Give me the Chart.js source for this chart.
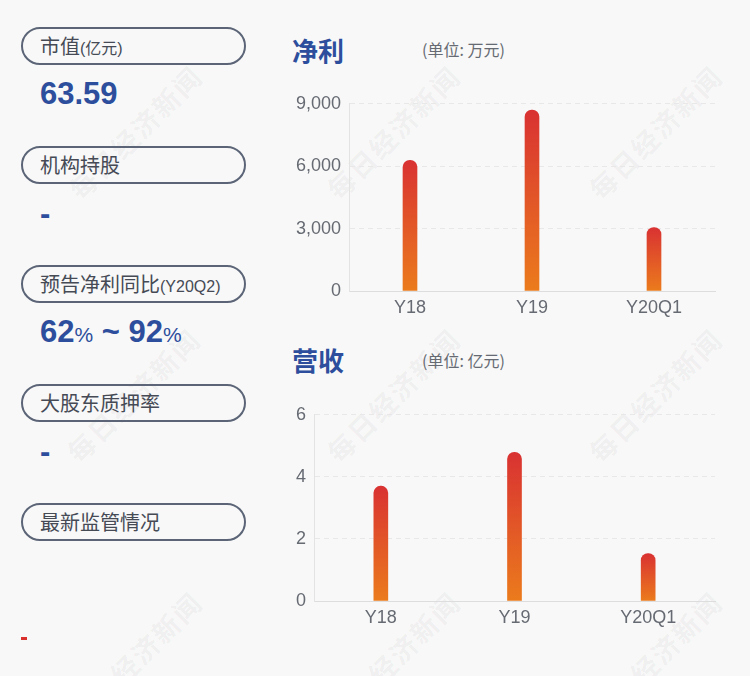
<!DOCTYPE html>
<html>
<head>
<meta charset="utf-8">
<script src="https://cdn.jsdelivr.net/npm/chart.js@4"></script>
<style>
  html, body { margin: 0; padding: 0; }
  body { width: 750px; height: 676px; background: #f8f8f8; position: relative; overflow: hidden;
         font-family: "Liberation Sans", "Noto Sans CJK SC", sans-serif; }
  .wm { position: absolute; font: bold 27px "Noto Sans CJK SC", sans-serif; color: rgba(0,0,0,0.05);
        transform: translate(-50%, -50%) rotate(-45deg); white-space: nowrap; letter-spacing: 2px; }
  .pill { position: absolute; left: 21px; width: 204px; height: 34px; border: 2px solid #5b6577;
          border-radius: 19px; color: #454a55; font: 20px "Noto Sans CJK SC", sans-serif;
          line-height: 34px; padding-left: 17px; }
  .pill small { font-size: 16px; font-family: "Liberation Sans", "Noto Sans CJK SC", sans-serif; }
  .val { position: absolute; left: 40px; color: #2d4e9c; font: bold 31px "Liberation Sans", sans-serif; }
  .val small { font-size: 21px; font-weight: normal; }
  .title { position: absolute; left: 292px; color: #2d4e9c; font: bold 26px "Noto Sans CJK SC", sans-serif; }
  .unit { position: absolute; left: 422px; color: #666a72; font: 16px "Noto Sans CJK SC", sans-serif; }
  canvas { position: absolute; }
</style>
</head>
<body>
<div id="wms"></div>

<div class="pill" style="top:27px">市值<small>(亿元)</small></div>
<div class="val" style="top:76px">63.59</div>
<div class="pill" style="top:146px">机构持股</div>
<div class="val" style="top:196px">-</div>
<div class="pill" style="top:265px">预告净利同比<small>(Y20Q2)</small></div>
<div class="val" style="top:314px">62<small>%</small> ~ 92<small>%</small></div>
<div class="pill" style="top:384px">大股东质押率</div>
<div class="val" style="top:434px">-</div>
<div class="pill" style="top:503px">最新监管情况</div>
<div style="position:absolute;left:21px;top:637px;width:6px;height:3px;background:#d9302e"></div>

<div class="title" style="top:31px">净利</div>
<div class="unit" style="top:37px">(单位: 万元)</div>
<div class="title" style="top:341px">营收</div>
<div class="unit" style="top:348px">(单位: 亿元)</div>

<canvas id="profit" style="left:280px;top:85px" width="450" height="240"></canvas>
<canvas id="revenue" style="left:280px;top:396px" width="450" height="239"></canvas>

<script>
const categories = ['Y18', 'Y19', 'Y20Q1'];
const profitValues = [6280, 8700, 3050];   // 万元
const revenueValues = [3.70, 4.79, 1.53];  // 亿元
const profitTicks = { max: 9000, step: 3000 };
const revenueTicks = { max: 6, step: 2 };

// watermark
const wmPos = [[135,132],[393,132],[655,132],[133,395],[393,395],[655,395],[135,658],[393,658],[655,658]];
const wms = document.getElementById('wms');
wmPos.forEach(([x, y]) => {
  const d = document.createElement('div');
  d.className = 'wm';
  d.textContent = '每日经济新闻';
  d.style.left = x + 'px';
  d.style.top = y + 'px';
  wms.appendChild(d);
});

function barFill(ctx) {
  const chart = ctx.chart;
  const y = chart.scales.y;
  if (!y || !chart.chartArea || ctx.parsed == null) return '#e05a28';
  const top = y.getPixelForValue(ctx.parsed.y);
  const bottom = y.getPixelForValue(0);
  if (!isFinite(top) || bottom - top < 1) return '#e05a28';
  const g = chart.ctx.createLinearGradient(0, top, 0, bottom);
  g.addColorStop(0, '#d93232');
  g.addColorStop(1, '#eb7b1c');
  return g;
}

function makeChart(id, values, ticks, yWidth) {
  new Chart(document.getElementById(id), {
    type: 'bar',
    data: {
      labels: categories,
      datasets: [{
        data: values,
        backgroundColor: barFill,
        barThickness: 14,
        borderRadius: { topLeft: 7, topRight: 7 },
        borderSkipped: 'bottom'
      }]
    },
    options: {
      responsive: false,
      animation: false,
      layout: { padding: { top: 0, right: 15, left: 0, bottom: 0 } },
      plugins: { legend: { display: false }, tooltip: { enabled: false } },
      scales: {
        x: {
          afterFit: s => { s.height = 34; },
          grid: { display: false, drawTicks: false },
          border: { display: true, color: '#dddddd', width: 1 },
          ticks: { color: '#666a72', font: { size: 18, family: 'Liberation Sans' }, padding: 6 }
        },
        y: {
          min: 0,
          max: ticks.max,
          afterFit: s => { s.width = yWidth; },
          ticks: { stepSize: ticks.step, color: '#666a72', font: { size: 18, family: 'Liberation Sans' }, padding: 8 },
          grid: { color: '#e8e8e8', drawTicks: false },
          border: { display: true, color: '#e3e3e3', dash: [5, 4] }
        }
      }
    }
  });
}

makeChart('profit', profitValues, profitTicks, 69);
makeChart('revenue', revenueValues, revenueTicks, 34);
</script>
</body>
</html>
